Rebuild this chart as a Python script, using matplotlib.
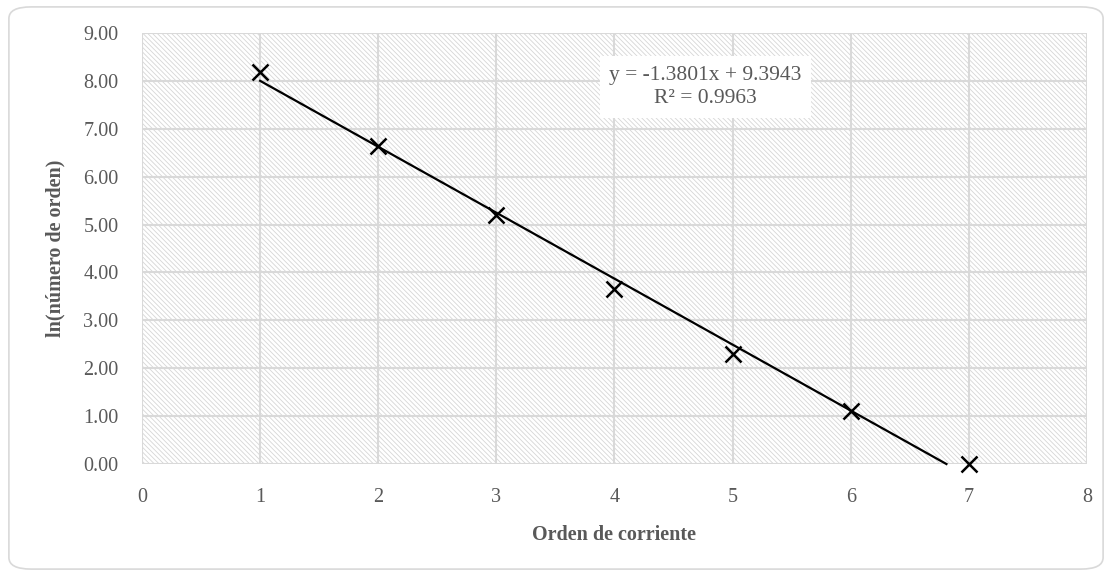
import numpy as np
import matplotlib.pyplot as plt
from matplotlib.patches import Rectangle, FancyBboxPatch

# datos
orden = [1, 2, 3, 4, 5, 6, 7]
ln_num = [8.19, 6.65, 5.19, 3.66, 2.30, 1.10, 0.00]
x_ticks = [0, 1, 2, 3, 4, 5, 6, 7, 8]
y_ticks = [0, 1, 2, 3, 4, 5, 6, 7, 8, 9]
eq_text = "y = -1.3801x + 9.3943\nR² = 0.9963"

plt.rcParams['font.family'] = ['Liberation Serif', 'DejaVu Serif']
plt.rcParams['hatch.linewidth'] = 0.6
gris = '#595959'

fig = plt.figure(figsize=(11.12, 5.76), dpi=100)
ax = fig.add_axes([0.1277, 0.1944, 0.8498, 0.7483])

# marco exterior redondeado
fig.patches.append(FancyBboxPatch((0.008, 0.012), 0.984, 0.976,
                                  boxstyle='round,pad=0,rounding_size=0.02',
                                  transform=fig.transFigure, fc='white',
                                  ec='#d9d9d9', lw=1.2, zorder=-10))

# fondo rayado
ax.set_facecolor('white')
ax.add_patch(Rectangle((0, 0), 1, 1, transform=ax.transAxes, fill=False,
                       hatch='\\' * 7, ec='#d6d6d6', lw=0, zorder=0))

ax.set_xlim(0, 8)
ax.set_ylim(0, 9)
ax.set_xticks(x_ticks)
ax.set_yticks(y_ticks)
ax.set_yticklabels([f'{v:.2f}' for v in y_ticks])
ax.set_axisbelow(False)
ax.grid(True, color='#d9d9d9', lw=1.5)
for s in ax.spines.values():
    s.set_visible(False)
ax.tick_params(length=0, labelsize=14.5, labelcolor=gris)
ax.tick_params(axis='y', pad=17)
ax.tick_params(axis='x', pad=17)

# linea de tendencia
m, b = np.polyfit(orden, ln_num, 1)
x_end = -b / m
xs = np.array([orden[0], x_end])
ax.plot(xs, m * xs + b, color='black', lw=1.6, zorder=3, clip_on=False)

ax.plot(orden, ln_num, ls='none', marker='x', ms=12, mew=1.8,
        color='black', zorder=4, clip_on=False)

ax.text(4.77, 7.87, eq_text, ha='center', va='center', fontsize=15.5,
        color=gris, linespacing=1.3, zorder=5,
        bbox=dict(fc='white', ec='none', pad=7))

ax.set_xlabel('Orden de corriente', fontsize=14.5, fontweight='bold',
              color=gris)
ax.set_ylabel('ln(número de orden)', fontsize=14.5, fontweight='bold',
              color=gris)
ax.xaxis.set_label_coords(0.5, -0.1415)
ax.yaxis.set_label_coords(-0.0815, 0.5)

fig.savefig('out.png', dpi=100)
